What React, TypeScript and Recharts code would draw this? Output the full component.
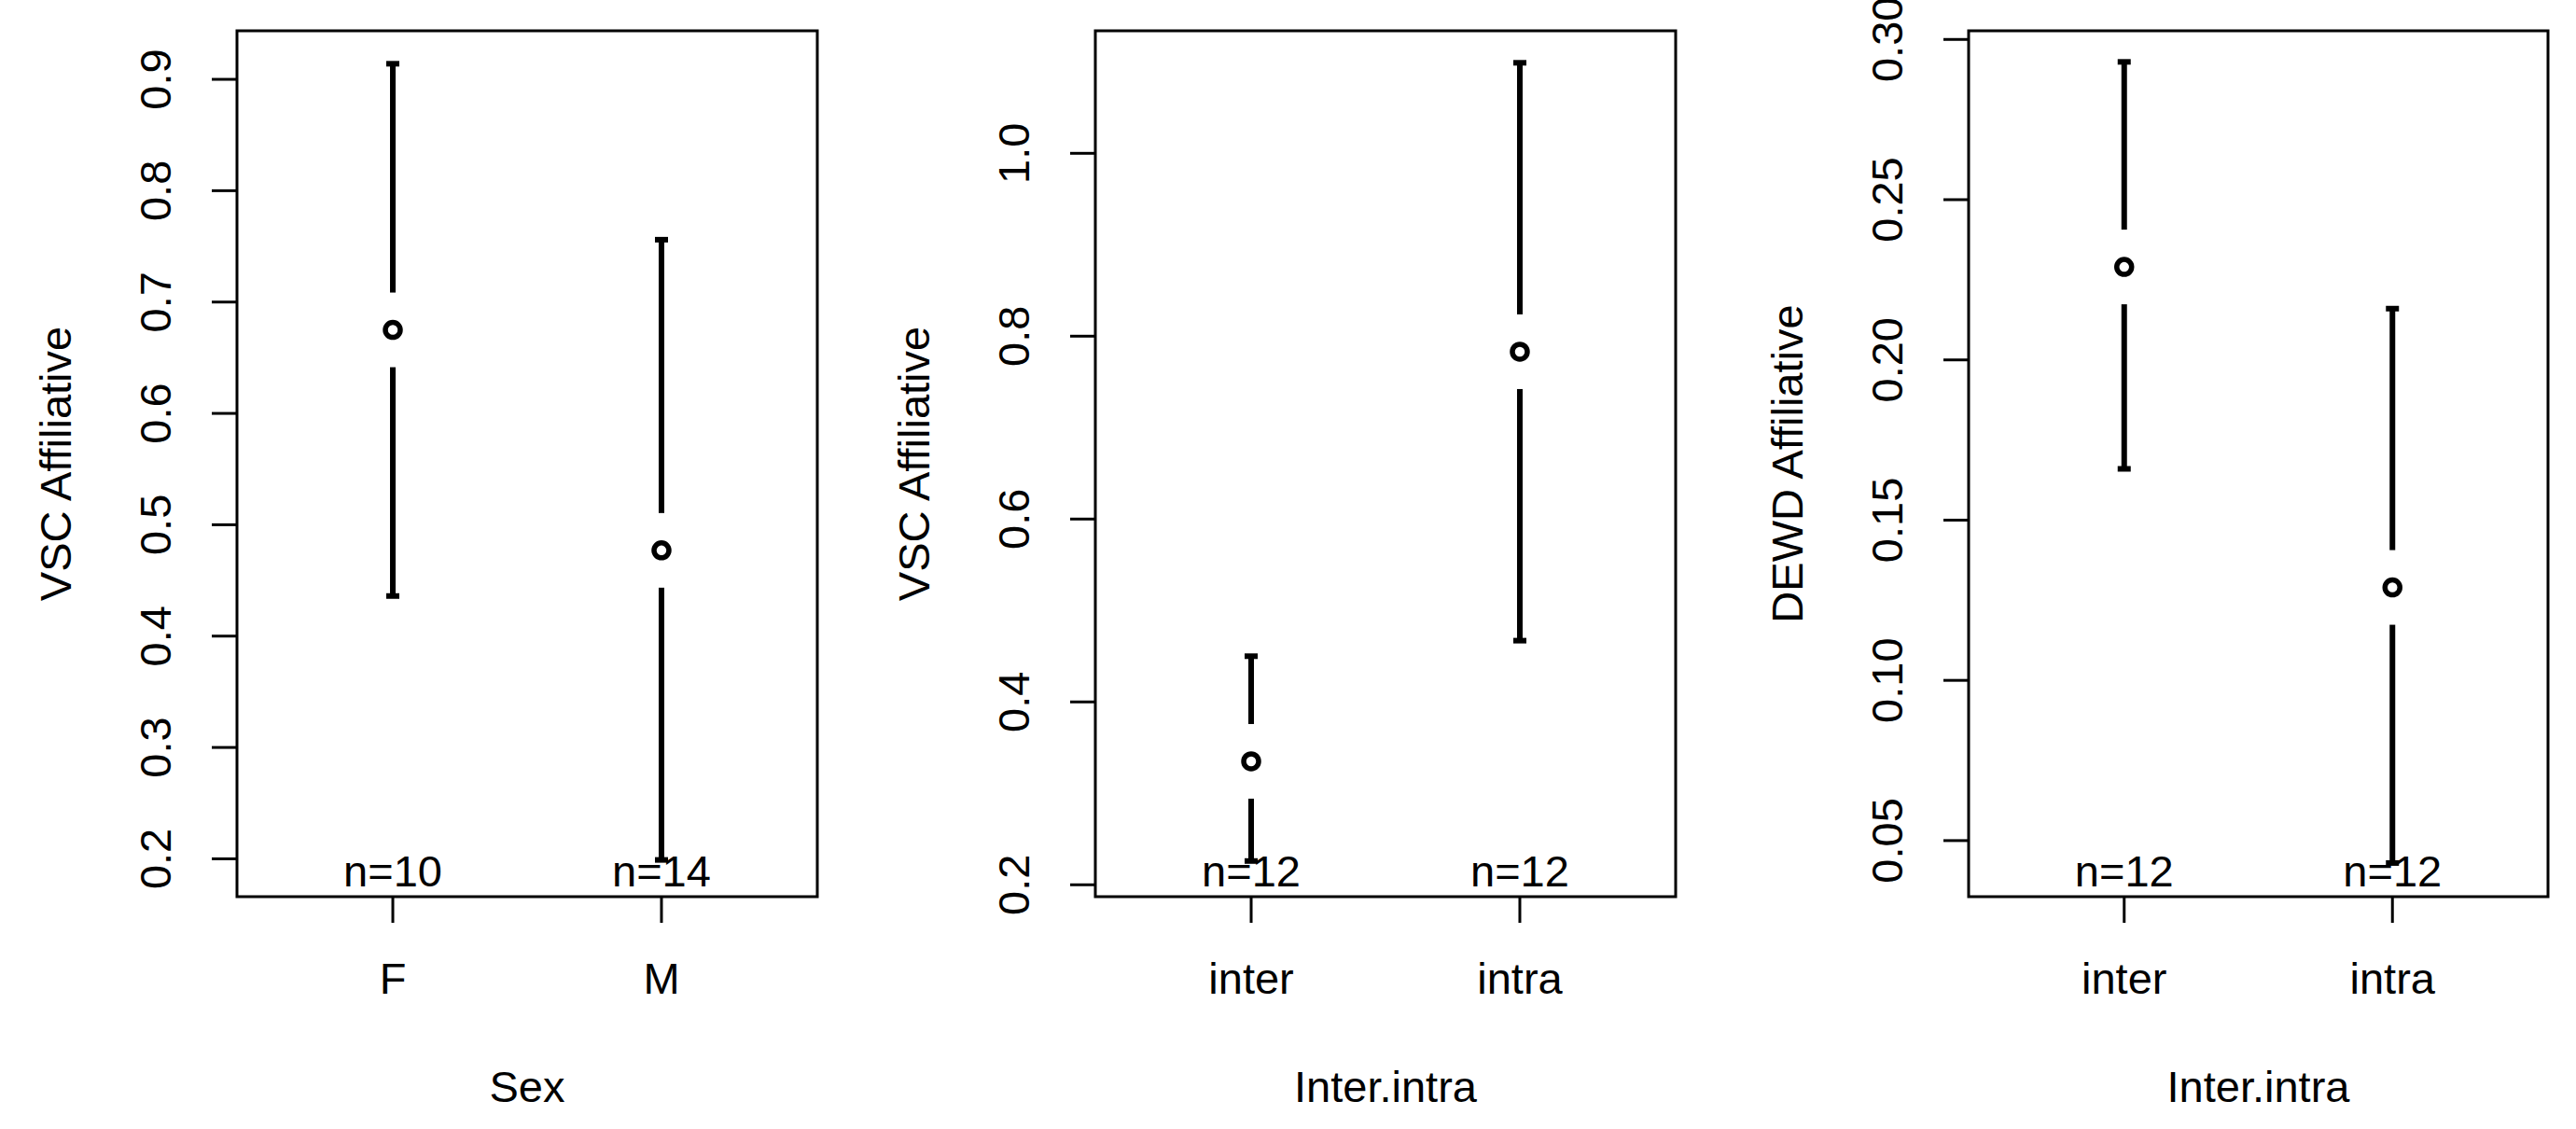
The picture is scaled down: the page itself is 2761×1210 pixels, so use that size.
import React from 'react';
import {
  ScatterChart,
  Scatter,
  XAxis,
  YAxis,
  ErrorBar,
  ReferenceArea,
} from 'recharts';

// panel 1: VSC Affiliative by Sex
const sexCategories = ['F', 'M'];
const sexMeans = [0.675, 0.477];
const sexLower = [0.436, 0.199];
const sexUpper = [0.914, 0.756];
const sexCounts = [10, 14];
const sexTicks = [0.2, 0.3, 0.4, 0.5, 0.6, 0.7, 0.8, 0.9];

// panel 2: VSC Affiliative by Inter.intra
const groupCategories = ['inter', 'intra'];
const vscMeans = [0.335, 0.783];
const vscLower = [0.226, 0.467];
const vscUpper = [0.45, 1.099];
const vscCounts = [12, 12];
const vscTicks = [0.2, 0.4, 0.6, 0.8, 1.0];

// panel 3: DEWD Affiliative by Inter.intra
const dewdMeans = [0.229, 0.129];
const dewdLower = [0.166, 0.043];
const dewdUpper = [0.293, 0.216];
const dewdCounts = [12, 12];
const dewdTicks = [0.05, 0.1, 0.15, 0.2, 0.25, 0.3];

const FONT = '"Liberation Sans", Arial, sans-serif';
const FS = 47;
const X_DOMAIN: [number, number] = [0.42, 2.58];

type PanelProps = {
  categories: string[];
  means: number[];
  lower: number[];
  upper: number[];
  counts: number[];
  ticks: number[];
  decimals: number;
  domain: [number, number];
  xTitle: string;
  yTitle: string;
  axisWidth: number;
  rightMargin: number;
  width: number;
};

// open circle with a gap cut out of the interval line (as plotmeans does)
const MeanMarker = (p: any) => {
  const { cx, cy } = p;
  if (cx == null || cy == null) return null;
  return (
    <g>
      <rect x={cx - 8} y={cy - 40} width={16} height={80} fill="#fff" />
      <circle cx={cx} cy={cy} r={8} fill="#fff" stroke="#000" strokeWidth={5.5} />
    </g>
  );
};

const CountLabel = (p: any) => {
  const { cx, cy, payload } = p;
  if (cx == null || cy == null) return null;
  return (
    <text x={cx} y={cy - 11} textAnchor="middle" fontSize={FS} fontFamily={FONT} fill="#000">
      {`n=${payload.n}`}
    </text>
  );
};

const Panel = (props: PanelProps) => {
  const {
    categories, means, lower, upper, counts, ticks, decimals, domain,
    xTitle, yTitle, axisWidth, rightMargin, width,
  } = props;

  const rows = categories.map((name, i) => ({
    x: i + 1,
    name,
    mean: means[i],
    err: [means[i] - lower[i], upper[i] - means[i]],
    n: counts[i],
    base: domain[0],
  }));

  const yTick = (t: any) => (
    <text
      x={t.x}
      y={t.y}
      transform={`rotate(-90 ${t.x} ${t.y})`}
      textAnchor="middle"
      fontSize={FS}
      fontFamily={FONT}
      fill="#000"
    >
      {Number(t.payload.value).toFixed(decimals)}
    </text>
  );

  const xTick = (t: any) => (
    <text x={t.x} y={t.y} textAnchor="middle" fontSize={FS} fontFamily={FONT} fill="#000">
      {categories[Math.round(t.payload.value) - 1]}
    </text>
  );

  const xLabel = (l: any) => {
    const vb = l.viewBox;
    return (
      <text x={vb.x + vb.width / 2} y={vb.y + 220} textAnchor="middle" fontSize={FS} fontFamily={FONT} fill="#000">
        {xTitle}
      </text>
    );
  };

  const yLabel = (l: any) => {
    const vb = l.viewBox;
    const x = vb.x + vb.width - 178;
    const y = vb.y + vb.height / 2;
    return (
      <text x={x} y={y} transform={`rotate(-90 ${x} ${y})`} textAnchor="middle" fontSize={FS} fontFamily={FONT} fill="#000">
        {yTitle}
      </text>
    );
  };

  return (
    <ScatterChart
      width={width}
      height={1210}
      margin={{ top: 33, right: rightMargin, bottom: 0, left: 0 }}
    >
      <XAxis
        type="number"
        dataKey="x"
        domain={X_DOMAIN}
        allowDataOverflow
        ticks={[1, 2]}
        height={249}
        axisLine={false}
        tickLine={{ stroke: '#000', strokeWidth: 3 }}
        tickSize={28}
        tickMargin={76}
        tick={xTick}
        label={xLabel}
      />
      <YAxis
        type="number"
        domain={domain}
        allowDataOverflow
        ticks={ticks}
        width={axisWidth}
        axisLine={false}
        tickLine={{ stroke: '#000', strokeWidth: 3 }}
        tickSize={27}
        tickMargin={44}
        tick={yTick}
        label={yLabel}
      />
      <ReferenceArea
        x1={X_DOMAIN[0]}
        x2={X_DOMAIN[1]}
        y1={domain[0]}
        y2={domain[1]}
        fill="none"
        stroke="#000"
        strokeWidth={3}
        ifOverflow="visible"
      />
      <Scatter data={rows} dataKey="base" shape={CountLabel} isAnimationActive={false} />
      <Scatter data={rows} dataKey="mean" shape={MeanMarker} isAnimationActive={false}>
        <ErrorBar dataKey="err" direction="y" width={7} stroke="#000" strokeWidth={6} />
      </Scatter>
    </ScatterChart>
  );
};

export default function App() {
  return (
    <div style={{ position: 'absolute', left: 0, top: 0, width: 2761, height: 1210, background: '#fff', overflow: 'hidden' }}>
      <div style={{ position: 'absolute', left: 0, top: 0 }}>
        <Panel
          categories={sexCategories}
          means={sexMeans}
          lower={sexLower}
          upper={sexUpper}
          counts={sexCounts}
          ticks={sexTicks}
          decimals={1}
          domain={[0.166, 0.9436]}
          xTitle="Sex"
          yTitle="VSC Affiliative"
          axisWidth={254}
          rightMargin={44}
          width={920}
        />
      </div>
      <div style={{ position: 'absolute', left: 920, top: 0 }}>
        <Panel
          categories={groupCategories}
          means={vscMeans}
          lower={vscLower}
          upper={vscUpper}
          counts={vscCounts}
          ticks={vscTicks}
          decimals={1}
          domain={[0.187, 1.134]}
          xTitle="Inter.intra"
          yTitle="VSC Affiliative"
          axisWidth={254}
          rightMargin={44}
          width={920}
        />
      </div>
      <div style={{ position: 'absolute', left: 1840, top: 0 }}>
        <Panel
          categories={groupCategories}
          means={dewdMeans}
          lower={dewdLower}
          upper={dewdUpper}
          counts={dewdCounts}
          ticks={dewdTicks}
          decimals={2}
          domain={[0.0325, 0.3027]}
          xTitle="Inter.intra"
          yTitle="DEWD Affiliative"
          axisWidth={270}
          rightMargin={30}
          width={921}
        />
      </div>
    </div>
  );
}
